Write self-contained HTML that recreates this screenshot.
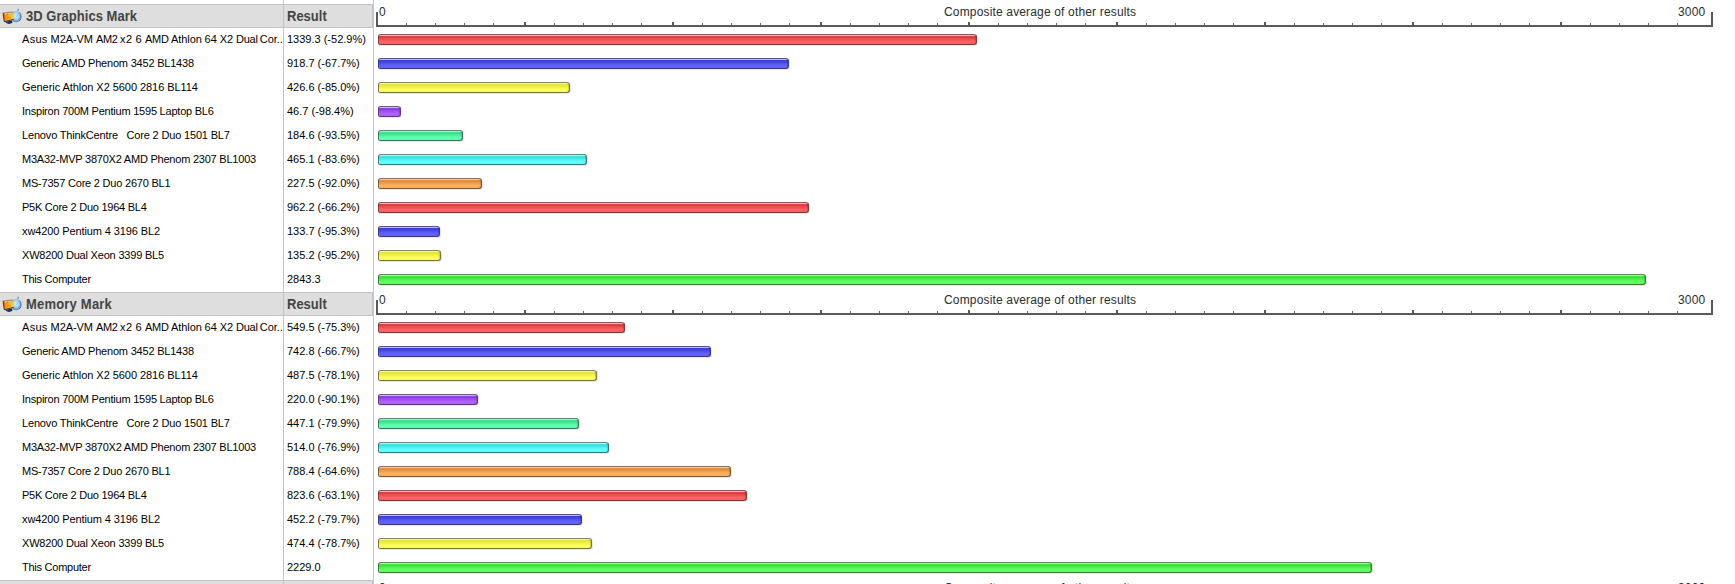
<!DOCTYPE html>
<html><head><meta charset="utf-8"><title>Results</title>
<style>
html,body{margin:0;padding:0;background:#fff;}
html{width:1735px;height:584px;overflow:hidden;}
body{width:1735px;height:584px;overflow:hidden;position:relative;font-family:"Liberation Sans",sans-serif;}
.wrap{position:absolute;left:0;top:0;width:1735px;height:584px;overflow:hidden;}
.vl{position:absolute;top:0;width:1px;height:584px;background:#c2c2c2;}
.hd{position:absolute;left:0;width:372px;height:22px;background:#dedede;border-top:1px solid #c2c2c2;border-bottom:1px solid #c4c4c4;border-right:1px solid #c6c6c6;}
.ht{position:absolute;font-weight:bold;font-size:13px;line-height:16px;color:#444;white-space:nowrap;transform:scaleY(1.08);transform-origin:0 100%;}
.nm{position:absolute;left:22px;font-size:11px;line-height:14px;color:#000;white-space:nowrap;}
.rs{position:absolute;left:287px;font-size:11px;line-height:14px;color:#000;white-space:nowrap;}
.ax{position:absolute;background:#595959;}
.tk{position:absolute;background:#6a6a6a;width:1px;height:2px;}
.at{position:absolute;font-size:12px;line-height:14px;color:#2c2c30;white-space:nowrap;}
.bar{position:absolute;left:378px;height:9px;border:1px solid;box-shadow:1px 1px 1px rgba(0,0,0,0.10),inset -1px 0 1px rgba(0,0,0,0.16);border-radius:2.5px 3px 3px 2.5px;box-sizing:content-box;}
.ic{position:absolute;left:2px;}
</style></head><body>
<div class="wrap">
<div class="vl" style="left:283px"></div>
<div class="vl" style="left:373px"></div>

<div class="hd" style="top:4px"></div>
<div class="vl" style="left:283px;top:4px;height:24px"></div>
<svg class="ic" style="top:7px" width="22" height="20" viewBox="0 0 22 20"><defs>
<radialGradient id="ck0" cx="0.5" cy="0.42" r="0.6"><stop offset="0" stop-color="#d4efff"/><stop offset="0.45" stop-color="#a9d6f6"/><stop offset="0.8" stop-color="#6aa6dc"/><stop offset="1" stop-color="#4a78ae"/></radialGradient>
<linearGradient id="mo0" x1="0" y1="0.3" x2="1" y2="0.7"><stop offset="0" stop-color="#ee6c14"/><stop offset="0.45" stop-color="#fb9a14"/><stop offset="1" stop-color="#ffe23c"/></linearGradient>
</defs>
<path d="M15 3.9 L15.6 1.6 L17 2 L16.6 4.2 Z" fill="#8aa0b8"/>
<path d="M12.6 2.6 l1.4 -0.7 M18.4 3.4 l1.1 -0.9 M16.2 0.9 l1.6 -0.5" stroke="#d6e2ee" stroke-width="0.9" fill="none"/>
<ellipse cx="14" cy="9.6" rx="5.1" ry="5.7" fill="url(#ck0)"/>
<path d="M17.6 5.4 A5.2 5.8 0 0 1 17.4 13.9" stroke="#3d5f88" stroke-width="0.9" fill="none" opacity="0.85"/>
<path d="M14.6 9.4 L16.6 6.4" stroke="#7fb0dc" stroke-width="0.8"/>
<path d="M3.4 15.6 q3.6 2.6 7.2 0.2 l-0.8 -2.2 l-5 0.8 z" fill="#0e3672"/>
<path d="M1.1 5.9 L11.1 5.0 L11.8 12.4 L2.3 14.7 Z" fill="url(#mo0)"/>
<path d="M1.1 5.9 L2.3 14.7 L11.8 12.4" stroke="#3c3018" stroke-width="1" fill="none" stroke-linejoin="round"/>
<path d="M1.1 5.9 L11.1 5.0" stroke="#7a5a30" stroke-width="0.6" fill="none"/>
<path d="M2.6 7.4 l2.2 -1.2" stroke="#f6c8a8" stroke-width="1.2"/>
<path d="M6.2 6.9 l3 -0.3" stroke="#cfe4f0" stroke-width="0.9"/>
<path d="M5.4 9.2 l3.4 -0.4" stroke="#c6d860" stroke-width="0.9" opacity="0.8"/>
<path d="M4.6 11.2 l4.2 -0.5" stroke="#f4641c" stroke-width="0.9" opacity="0.8"/>
</svg>
<div class="ht" style="left:26px;top:9.4px;letter-spacing:0.03px">3D Graphics Mark</div>
<div class="ht" style="left:287px;top:9.4px">Result</div>
<div class="ax" style="left:376px;top:12px;width:2px;height:15px"></div>
<div class="ax" style="left:1711px;top:12px;width:2px;height:15px"></div>
<div class="ax" style="left:376px;top:25px;width:1337px;height:2px"></div>
<div class="tk" style="left:406px;top:23px"></div>
<div class="tk" style="left:435px;top:23px"></div>
<div class="tk" style="left:464px;top:23px"></div>
<div class="tk" style="left:493px;top:23px"></div>
<div class="ax" style="left:524px;top:22px;width:2px;height:3px"></div>
<div class="tk" style="left:554px;top:23px"></div>
<div class="tk" style="left:583px;top:23px"></div>
<div class="tk" style="left:612px;top:23px"></div>
<div class="tk" style="left:641px;top:23px"></div>
<div class="ax" style="left:672px;top:22px;width:2px;height:3px"></div>
<div class="tk" style="left:702px;top:23px"></div>
<div class="tk" style="left:731px;top:23px"></div>
<div class="tk" style="left:760px;top:23px"></div>
<div class="tk" style="left:789px;top:23px"></div>
<div class="ax" style="left:820px;top:22px;width:2px;height:3px"></div>
<div class="tk" style="left:850px;top:23px"></div>
<div class="tk" style="left:879px;top:23px"></div>
<div class="tk" style="left:908px;top:23px"></div>
<div class="tk" style="left:937px;top:23px"></div>
<div class="ax" style="left:968px;top:22px;width:2px;height:3px"></div>
<div class="tk" style="left:998px;top:23px"></div>
<div class="tk" style="left:1027px;top:23px"></div>
<div class="tk" style="left:1056px;top:23px"></div>
<div class="tk" style="left:1085px;top:23px"></div>
<div class="ax" style="left:1116px;top:22px;width:2px;height:3px"></div>
<div class="tk" style="left:1146px;top:23px"></div>
<div class="tk" style="left:1175px;top:23px"></div>
<div class="tk" style="left:1204px;top:23px"></div>
<div class="tk" style="left:1233px;top:23px"></div>
<div class="ax" style="left:1264px;top:22px;width:2px;height:3px"></div>
<div class="tk" style="left:1294px;top:23px"></div>
<div class="tk" style="left:1323px;top:23px"></div>
<div class="tk" style="left:1352px;top:23px"></div>
<div class="tk" style="left:1381px;top:23px"></div>
<div class="ax" style="left:1412px;top:22px;width:2px;height:3px"></div>
<div class="tk" style="left:1442px;top:23px"></div>
<div class="tk" style="left:1471px;top:23px"></div>
<div class="tk" style="left:1500px;top:23px"></div>
<div class="tk" style="left:1529px;top:23px"></div>
<div class="ax" style="left:1560px;top:22px;width:2px;height:3px"></div>
<div class="tk" style="left:1590px;top:23px"></div>
<div class="tk" style="left:1619px;top:23px"></div>
<div class="tk" style="left:1648px;top:23px"></div>
<div class="tk" style="left:1677px;top:23px"></div>
<div class="at" style="left:379px;top:5px">0</div>
<div class="at" style="left:944px;top:5px;letter-spacing:0.16px">Composite average of other results</div>
<div class="at" style="left:1678px;top:5px;letter-spacing:0.2px">3000</div>
<div class="nm" style="top:32px;left:22px;letter-spacing:0.3px">Asus</div>
<div class="nm" style="top:32px;left:50.6px;letter-spacing:-0.1px">M2A-VM</div>
<div class="nm" style="top:32px;left:95.9px;letter-spacing:-0.3px">AM2</div>
<div class="nm" style="top:32px;left:120px;letter-spacing:0.5px">x2</div>
<div class="nm" style="top:32px;left:135.5px;letter-spacing:0px">6</div>
<div class="nm" style="top:32px;left:145px;letter-spacing:-0.3px">AMD</div>
<div class="nm" style="top:32px;left:171px;letter-spacing:-0.05px">Athlon</div>
<div class="nm" style="top:32px;left:204.4px;letter-spacing:0.2px">64</div>
<div class="nm" style="top:32px;left:219.7px;letter-spacing:-0.1px">X2</div>
<div class="nm" style="top:32px;left:236px;letter-spacing:-0.25px">Dual</div>
<div class="nm" style="top:32px;left:259.7px;letter-spacing:0px">Cor..</div>
<div class="rs" style="top:32px">1339.3 (-52.9%)</div>
<div class="bar" style="top:34px;width:597px;border-color:#8a5858 #763c3c #763c3c #763c3c;background:linear-gradient(to bottom,#ecbcbc 0,#ecbcbc 1px,#e04040 1.2px,#e04040 2.5px,#ff6262 6.5px,#ff6262 9px)"></div>
<div class="nm" style="top:56px;letter-spacing:-0.203px">Generic AMD Phenom 3452 BL1438</div>
<div class="rs" style="top:56px">918.7 (-67.7%)</div>
<div class="bar" style="top:58px;width:409px;border-color:#58588a #3c3c76 #3c3c76 #3c3c76;background:linear-gradient(to bottom,#bcbcec 0,#bcbcec 1px,#4040e0 1.2px,#4040e0 2.5px,#6262ff 6.5px,#6262ff 9px)"></div>
<div class="nm" style="top:80px;letter-spacing:-0.056px">Generic Athlon X2 5600 2816 BL114</div>
<div class="rs" style="top:80px">426.6 (-85.0%)</div>
<div class="bar" style="top:82px;width:190px;border-color:#8a8a58 #76763c #76763c #76763c;background:linear-gradient(to bottom,#f4f4c0 0,#f4f4c0 1px,#e6e640 1.2px,#e6e640 2.5px,#ffff62 6.5px,#ffff62 9px)"></div>
<div class="nm" style="top:104px;letter-spacing:-0.225px">Inspiron 700M Pentium 1595 Laptop BL6</div>
<div class="rs" style="top:104px">46.7 (-98.4%)</div>
<div class="bar" style="top:106px;width:21px;border-color:#70588a #583c76 #583c76 #583c76;background:linear-gradient(to bottom,#d4bcec 0,#d4bcec 1px,#9040e0 1.2px,#9040e0 2.5px,#b062ff 6.5px,#b062ff 9px)"></div>
<div class="nm" style="top:128px;letter-spacing:-0.167px">Lenovo ThinkCentre&nbsp;&nbsp; Core 2 Duo 1501 BL7</div>
<div class="rs" style="top:128px">184.6 (-93.5%)</div>
<div class="bar" style="top:130px;width:83px;border-color:#588a70 #3c7658 #3c7658 #3c7658;background:linear-gradient(to bottom,#bcecd4 0,#bcecd4 1px,#40e090 1.2px,#40e090 2.5px,#62ffb0 6.5px,#62ffb0 9px)"></div>
<div class="nm" style="top:152px;letter-spacing:-0.221px">M3A32-MVP 3870X2 AMD Phenom 2307 BL1003</div>
<div class="rs" style="top:152px">465.1 (-83.6%)</div>
<div class="bar" style="top:154px;width:207px;border-color:#588a8a #3c7676 #3c7676 #3c7676;background:linear-gradient(to bottom,#c0f4f4 0,#c0f4f4 1px,#40e0e0 1.2px,#40e0e0 2.5px,#62ffff 6.5px,#62ffff 9px)"></div>
<div class="nm" style="top:176px;letter-spacing:-0.212px">MS-7357 Core 2 Duo 2670 BL1</div>
<div class="rs" style="top:176px">227.5 (-92.0%)</div>
<div class="bar" style="top:178px;width:102px;border-color:#8a7058 #76583c #76583c #76583c;background:linear-gradient(to bottom,#ecd4bc 0,#ecd4bc 1px,#e09040 1.2px,#e09040 2.5px,#ffb062 6.5px,#ffb062 9px)"></div>
<div class="nm" style="top:200px;letter-spacing:-0.245px">P5K Core 2 Duo 1964 BL4</div>
<div class="rs" style="top:200px">962.2 (-66.2%)</div>
<div class="bar" style="top:202px;width:429px;border-color:#8a5858 #763c3c #763c3c #763c3c;background:linear-gradient(to bottom,#ecbcbc 0,#ecbcbc 1px,#e04040 1.2px,#e04040 2.5px,#ff6262 6.5px,#ff6262 9px)"></div>
<div class="nm" style="top:224px;letter-spacing:-0.108px">xw4200 Pentium 4 3196 BL2</div>
<div class="rs" style="top:224px">133.7 (-95.3%)</div>
<div class="bar" style="top:226px;width:60px;border-color:#58588a #3c3c76 #3c3c76 #3c3c76;background:linear-gradient(to bottom,#bcbcec 0,#bcbcec 1px,#4040e0 1.2px,#4040e0 2.5px,#6262ff 6.5px,#6262ff 9px)"></div>
<div class="nm" style="top:248px;letter-spacing:-0.192px">XW8200 Dual Xeon 3399 BL5</div>
<div class="rs" style="top:248px">135.2 (-95.2%)</div>
<div class="bar" style="top:250px;width:61px;border-color:#8a8a58 #76763c #76763c #76763c;background:linear-gradient(to bottom,#f4f4c0 0,#f4f4c0 1px,#e6e640 1.2px,#e6e640 2.5px,#ffff62 6.5px,#ffff62 9px)"></div>
<div class="nm" style="top:272px;letter-spacing:-0.25px">This Computer</div>
<div class="rs" style="top:272px">2843.3</div>
<div class="bar" style="top:274px;width:1266px;border-color:#588a58 #3c763c #3c763c #3c763c;background:linear-gradient(to bottom,#bcecbc 0,#bcecbc 1px,#40e040 1.2px,#40e040 2.5px,#62ff62 6.5px,#62ff62 9px)"></div>
<div class="hd" style="top:292px"></div>
<div class="vl" style="left:283px;top:292px;height:24px"></div>
<svg class="ic" style="top:295px" width="22" height="20" viewBox="0 0 22 20"><defs>
<radialGradient id="ck1" cx="0.5" cy="0.42" r="0.6"><stop offset="0" stop-color="#d4efff"/><stop offset="0.45" stop-color="#a9d6f6"/><stop offset="0.8" stop-color="#6aa6dc"/><stop offset="1" stop-color="#4a78ae"/></radialGradient>
<linearGradient id="mo1" x1="0" y1="0.3" x2="1" y2="0.7"><stop offset="0" stop-color="#ee6c14"/><stop offset="0.45" stop-color="#fb9a14"/><stop offset="1" stop-color="#ffe23c"/></linearGradient>
</defs>
<path d="M15 3.9 L15.6 1.6 L17 2 L16.6 4.2 Z" fill="#8aa0b8"/>
<path d="M12.6 2.6 l1.4 -0.7 M18.4 3.4 l1.1 -0.9 M16.2 0.9 l1.6 -0.5" stroke="#d6e2ee" stroke-width="0.9" fill="none"/>
<ellipse cx="14" cy="9.6" rx="5.1" ry="5.7" fill="url(#ck1)"/>
<path d="M17.6 5.4 A5.2 5.8 0 0 1 17.4 13.9" stroke="#3d5f88" stroke-width="0.9" fill="none" opacity="0.85"/>
<path d="M14.6 9.4 L16.6 6.4" stroke="#7fb0dc" stroke-width="0.8"/>
<path d="M3.4 15.6 q3.6 2.6 7.2 0.2 l-0.8 -2.2 l-5 0.8 z" fill="#0e3672"/>
<path d="M1.1 5.9 L11.1 5.0 L11.8 12.4 L2.3 14.7 Z" fill="url(#mo1)"/>
<path d="M1.1 5.9 L2.3 14.7 L11.8 12.4" stroke="#3c3018" stroke-width="1" fill="none" stroke-linejoin="round"/>
<path d="M1.1 5.9 L11.1 5.0" stroke="#7a5a30" stroke-width="0.6" fill="none"/>
<path d="M2.6 7.4 l2.2 -1.2" stroke="#f6c8a8" stroke-width="1.2"/>
<path d="M6.2 6.9 l3 -0.3" stroke="#cfe4f0" stroke-width="0.9"/>
<path d="M5.4 9.2 l3.4 -0.4" stroke="#c6d860" stroke-width="0.9" opacity="0.8"/>
<path d="M4.6 11.2 l4.2 -0.5" stroke="#f4641c" stroke-width="0.9" opacity="0.8"/>
</svg>
<div class="ht" style="left:26px;top:297.4px;letter-spacing:0.2px">Memory Mark</div>
<div class="ht" style="left:287px;top:297.4px">Result</div>
<div class="ax" style="left:376px;top:300px;width:2px;height:15px"></div>
<div class="ax" style="left:1711px;top:300px;width:2px;height:15px"></div>
<div class="ax" style="left:376px;top:313px;width:1337px;height:2px"></div>
<div class="tk" style="left:406px;top:311px"></div>
<div class="tk" style="left:435px;top:311px"></div>
<div class="tk" style="left:464px;top:311px"></div>
<div class="tk" style="left:493px;top:311px"></div>
<div class="ax" style="left:524px;top:310px;width:2px;height:3px"></div>
<div class="tk" style="left:554px;top:311px"></div>
<div class="tk" style="left:583px;top:311px"></div>
<div class="tk" style="left:612px;top:311px"></div>
<div class="tk" style="left:641px;top:311px"></div>
<div class="ax" style="left:672px;top:310px;width:2px;height:3px"></div>
<div class="tk" style="left:702px;top:311px"></div>
<div class="tk" style="left:731px;top:311px"></div>
<div class="tk" style="left:760px;top:311px"></div>
<div class="tk" style="left:789px;top:311px"></div>
<div class="ax" style="left:820px;top:310px;width:2px;height:3px"></div>
<div class="tk" style="left:850px;top:311px"></div>
<div class="tk" style="left:879px;top:311px"></div>
<div class="tk" style="left:908px;top:311px"></div>
<div class="tk" style="left:937px;top:311px"></div>
<div class="ax" style="left:968px;top:310px;width:2px;height:3px"></div>
<div class="tk" style="left:998px;top:311px"></div>
<div class="tk" style="left:1027px;top:311px"></div>
<div class="tk" style="left:1056px;top:311px"></div>
<div class="tk" style="left:1085px;top:311px"></div>
<div class="ax" style="left:1116px;top:310px;width:2px;height:3px"></div>
<div class="tk" style="left:1146px;top:311px"></div>
<div class="tk" style="left:1175px;top:311px"></div>
<div class="tk" style="left:1204px;top:311px"></div>
<div class="tk" style="left:1233px;top:311px"></div>
<div class="ax" style="left:1264px;top:310px;width:2px;height:3px"></div>
<div class="tk" style="left:1294px;top:311px"></div>
<div class="tk" style="left:1323px;top:311px"></div>
<div class="tk" style="left:1352px;top:311px"></div>
<div class="tk" style="left:1381px;top:311px"></div>
<div class="ax" style="left:1412px;top:310px;width:2px;height:3px"></div>
<div class="tk" style="left:1442px;top:311px"></div>
<div class="tk" style="left:1471px;top:311px"></div>
<div class="tk" style="left:1500px;top:311px"></div>
<div class="tk" style="left:1529px;top:311px"></div>
<div class="ax" style="left:1560px;top:310px;width:2px;height:3px"></div>
<div class="tk" style="left:1590px;top:311px"></div>
<div class="tk" style="left:1619px;top:311px"></div>
<div class="tk" style="left:1648px;top:311px"></div>
<div class="tk" style="left:1677px;top:311px"></div>
<div class="at" style="left:379px;top:293px">0</div>
<div class="at" style="left:944px;top:293px;letter-spacing:0.16px">Composite average of other results</div>
<div class="at" style="left:1678px;top:293px;letter-spacing:0.2px">3000</div>
<div class="nm" style="top:320px;left:22px;letter-spacing:0.3px">Asus</div>
<div class="nm" style="top:320px;left:50.6px;letter-spacing:-0.1px">M2A-VM</div>
<div class="nm" style="top:320px;left:95.9px;letter-spacing:-0.3px">AM2</div>
<div class="nm" style="top:320px;left:120px;letter-spacing:0.5px">x2</div>
<div class="nm" style="top:320px;left:135.5px;letter-spacing:0px">6</div>
<div class="nm" style="top:320px;left:145px;letter-spacing:-0.3px">AMD</div>
<div class="nm" style="top:320px;left:171px;letter-spacing:-0.05px">Athlon</div>
<div class="nm" style="top:320px;left:204.4px;letter-spacing:0.2px">64</div>
<div class="nm" style="top:320px;left:219.7px;letter-spacing:-0.1px">X2</div>
<div class="nm" style="top:320px;left:236px;letter-spacing:-0.25px">Dual</div>
<div class="nm" style="top:320px;left:259.7px;letter-spacing:0px">Cor..</div>
<div class="rs" style="top:320px">549.5 (-75.3%)</div>
<div class="bar" style="top:322px;width:245px;border-color:#8a5858 #763c3c #763c3c #763c3c;background:linear-gradient(to bottom,#ecbcbc 0,#ecbcbc 1px,#e04040 1.2px,#e04040 2.5px,#ff6262 6.5px,#ff6262 9px)"></div>
<div class="nm" style="top:344px;letter-spacing:-0.203px">Generic AMD Phenom 3452 BL1438</div>
<div class="rs" style="top:344px">742.8 (-66.7%)</div>
<div class="bar" style="top:346px;width:331px;border-color:#58588a #3c3c76 #3c3c76 #3c3c76;background:linear-gradient(to bottom,#bcbcec 0,#bcbcec 1px,#4040e0 1.2px,#4040e0 2.5px,#6262ff 6.5px,#6262ff 9px)"></div>
<div class="nm" style="top:368px;letter-spacing:-0.056px">Generic Athlon X2 5600 2816 BL114</div>
<div class="rs" style="top:368px">487.5 (-78.1%)</div>
<div class="bar" style="top:370px;width:217px;border-color:#8a8a58 #76763c #76763c #76763c;background:linear-gradient(to bottom,#f4f4c0 0,#f4f4c0 1px,#e6e640 1.2px,#e6e640 2.5px,#ffff62 6.5px,#ffff62 9px)"></div>
<div class="nm" style="top:392px;letter-spacing:-0.225px">Inspiron 700M Pentium 1595 Laptop BL6</div>
<div class="rs" style="top:392px">220.0 (-90.1%)</div>
<div class="bar" style="top:394px;width:98px;border-color:#70588a #583c76 #583c76 #583c76;background:linear-gradient(to bottom,#d4bcec 0,#d4bcec 1px,#9040e0 1.2px,#9040e0 2.5px,#b062ff 6.5px,#b062ff 9px)"></div>
<div class="nm" style="top:416px;letter-spacing:-0.167px">Lenovo ThinkCentre&nbsp;&nbsp; Core 2 Duo 1501 BL7</div>
<div class="rs" style="top:416px">447.1 (-79.9%)</div>
<div class="bar" style="top:418px;width:199px;border-color:#588a70 #3c7658 #3c7658 #3c7658;background:linear-gradient(to bottom,#bcecd4 0,#bcecd4 1px,#40e090 1.2px,#40e090 2.5px,#62ffb0 6.5px,#62ffb0 9px)"></div>
<div class="nm" style="top:440px;letter-spacing:-0.221px">M3A32-MVP 3870X2 AMD Phenom 2307 BL1003</div>
<div class="rs" style="top:440px">514.0 (-76.9%)</div>
<div class="bar" style="top:442px;width:229px;border-color:#588a8a #3c7676 #3c7676 #3c7676;background:linear-gradient(to bottom,#c0f4f4 0,#c0f4f4 1px,#40e0e0 1.2px,#40e0e0 2.5px,#62ffff 6.5px,#62ffff 9px)"></div>
<div class="nm" style="top:464px;letter-spacing:-0.212px">MS-7357 Core 2 Duo 2670 BL1</div>
<div class="rs" style="top:464px">788.4 (-64.6%)</div>
<div class="bar" style="top:466px;width:351px;border-color:#8a7058 #76583c #76583c #76583c;background:linear-gradient(to bottom,#ecd4bc 0,#ecd4bc 1px,#e09040 1.2px,#e09040 2.5px,#ffb062 6.5px,#ffb062 9px)"></div>
<div class="nm" style="top:488px;letter-spacing:-0.245px">P5K Core 2 Duo 1964 BL4</div>
<div class="rs" style="top:488px">823.6 (-63.1%)</div>
<div class="bar" style="top:490px;width:367px;border-color:#8a5858 #763c3c #763c3c #763c3c;background:linear-gradient(to bottom,#ecbcbc 0,#ecbcbc 1px,#e04040 1.2px,#e04040 2.5px,#ff6262 6.5px,#ff6262 9px)"></div>
<div class="nm" style="top:512px;letter-spacing:-0.108px">xw4200 Pentium 4 3196 BL2</div>
<div class="rs" style="top:512px">452.2 (-79.7%)</div>
<div class="bar" style="top:514px;width:202px;border-color:#58588a #3c3c76 #3c3c76 #3c3c76;background:linear-gradient(to bottom,#bcbcec 0,#bcbcec 1px,#4040e0 1.2px,#4040e0 2.5px,#6262ff 6.5px,#6262ff 9px)"></div>
<div class="nm" style="top:536px;letter-spacing:-0.192px">XW8200 Dual Xeon 3399 BL5</div>
<div class="rs" style="top:536px">474.4 (-78.7%)</div>
<div class="bar" style="top:538px;width:212px;border-color:#8a8a58 #76763c #76763c #76763c;background:linear-gradient(to bottom,#f4f4c0 0,#f4f4c0 1px,#e6e640 1.2px,#e6e640 2.5px,#ffff62 6.5px,#ffff62 9px)"></div>
<div class="nm" style="top:560px;letter-spacing:-0.25px">This Computer</div>
<div class="rs" style="top:560px">2229.0</div>
<div class="bar" style="top:562px;width:992px;border-color:#588a58 #3c763c #3c763c #3c763c;background:linear-gradient(to bottom,#bcecbc 0,#bcecbc 1px,#40e040 1.2px,#40e040 2.5px,#62ff62 6.5px,#62ff62 9px)"></div>
<div class="hd" style="top:580px"></div>
<div class="vl" style="left:283px;top:580px;height:24px"></div>
<svg class="ic" style="top:583px" width="22" height="20" viewBox="0 0 22 20"><defs>
<radialGradient id="ck2" cx="0.5" cy="0.42" r="0.6"><stop offset="0" stop-color="#d4efff"/><stop offset="0.45" stop-color="#a9d6f6"/><stop offset="0.8" stop-color="#6aa6dc"/><stop offset="1" stop-color="#4a78ae"/></radialGradient>
<linearGradient id="mo2" x1="0" y1="0.3" x2="1" y2="0.7"><stop offset="0" stop-color="#ee6c14"/><stop offset="0.45" stop-color="#fb9a14"/><stop offset="1" stop-color="#ffe23c"/></linearGradient>
</defs>
<path d="M15 3.9 L15.6 1.6 L17 2 L16.6 4.2 Z" fill="#8aa0b8"/>
<path d="M12.6 2.6 l1.4 -0.7 M18.4 3.4 l1.1 -0.9 M16.2 0.9 l1.6 -0.5" stroke="#d6e2ee" stroke-width="0.9" fill="none"/>
<ellipse cx="14" cy="9.6" rx="5.1" ry="5.7" fill="url(#ck2)"/>
<path d="M17.6 5.4 A5.2 5.8 0 0 1 17.4 13.9" stroke="#3d5f88" stroke-width="0.9" fill="none" opacity="0.85"/>
<path d="M14.6 9.4 L16.6 6.4" stroke="#7fb0dc" stroke-width="0.8"/>
<path d="M3.4 15.6 q3.6 2.6 7.2 0.2 l-0.8 -2.2 l-5 0.8 z" fill="#0e3672"/>
<path d="M1.1 5.9 L11.1 5.0 L11.8 12.4 L2.3 14.7 Z" fill="url(#mo2)"/>
<path d="M1.1 5.9 L2.3 14.7 L11.8 12.4" stroke="#3c3018" stroke-width="1" fill="none" stroke-linejoin="round"/>
<path d="M1.1 5.9 L11.1 5.0" stroke="#7a5a30" stroke-width="0.6" fill="none"/>
<path d="M2.6 7.4 l2.2 -1.2" stroke="#f6c8a8" stroke-width="1.2"/>
<path d="M6.2 6.9 l3 -0.3" stroke="#cfe4f0" stroke-width="0.9"/>
<path d="M5.4 9.2 l3.4 -0.4" stroke="#c6d860" stroke-width="0.9" opacity="0.8"/>
<path d="M4.6 11.2 l4.2 -0.5" stroke="#f4641c" stroke-width="0.9" opacity="0.8"/>
</svg>
<div class="ht" style="left:26px;top:585.4px;letter-spacing:0.03px">CD Mark</div>
<div class="ht" style="left:287px;top:585.4px">Result</div>
<div class="ax" style="left:376px;top:588px;width:2px;height:15px"></div>
<div class="ax" style="left:1711px;top:588px;width:2px;height:15px"></div>
<div class="ax" style="left:376px;top:601px;width:1337px;height:2px"></div>
<div class="tk" style="left:406px;top:599px"></div>
<div class="tk" style="left:435px;top:599px"></div>
<div class="tk" style="left:464px;top:599px"></div>
<div class="tk" style="left:493px;top:599px"></div>
<div class="ax" style="left:524px;top:598px;width:2px;height:3px"></div>
<div class="tk" style="left:554px;top:599px"></div>
<div class="tk" style="left:583px;top:599px"></div>
<div class="tk" style="left:612px;top:599px"></div>
<div class="tk" style="left:641px;top:599px"></div>
<div class="ax" style="left:672px;top:598px;width:2px;height:3px"></div>
<div class="tk" style="left:702px;top:599px"></div>
<div class="tk" style="left:731px;top:599px"></div>
<div class="tk" style="left:760px;top:599px"></div>
<div class="tk" style="left:789px;top:599px"></div>
<div class="ax" style="left:820px;top:598px;width:2px;height:3px"></div>
<div class="tk" style="left:850px;top:599px"></div>
<div class="tk" style="left:879px;top:599px"></div>
<div class="tk" style="left:908px;top:599px"></div>
<div class="tk" style="left:937px;top:599px"></div>
<div class="ax" style="left:968px;top:598px;width:2px;height:3px"></div>
<div class="tk" style="left:998px;top:599px"></div>
<div class="tk" style="left:1027px;top:599px"></div>
<div class="tk" style="left:1056px;top:599px"></div>
<div class="tk" style="left:1085px;top:599px"></div>
<div class="ax" style="left:1116px;top:598px;width:2px;height:3px"></div>
<div class="tk" style="left:1146px;top:599px"></div>
<div class="tk" style="left:1175px;top:599px"></div>
<div class="tk" style="left:1204px;top:599px"></div>
<div class="tk" style="left:1233px;top:599px"></div>
<div class="ax" style="left:1264px;top:598px;width:2px;height:3px"></div>
<div class="tk" style="left:1294px;top:599px"></div>
<div class="tk" style="left:1323px;top:599px"></div>
<div class="tk" style="left:1352px;top:599px"></div>
<div class="tk" style="left:1381px;top:599px"></div>
<div class="ax" style="left:1412px;top:598px;width:2px;height:3px"></div>
<div class="tk" style="left:1442px;top:599px"></div>
<div class="tk" style="left:1471px;top:599px"></div>
<div class="tk" style="left:1500px;top:599px"></div>
<div class="tk" style="left:1529px;top:599px"></div>
<div class="ax" style="left:1560px;top:598px;width:2px;height:3px"></div>
<div class="tk" style="left:1590px;top:599px"></div>
<div class="tk" style="left:1619px;top:599px"></div>
<div class="tk" style="left:1648px;top:599px"></div>
<div class="tk" style="left:1677px;top:599px"></div>
<div class="at" style="left:379px;top:581px">0</div>
<div class="at" style="left:944px;top:581px;letter-spacing:0.16px">Composite average of other results</div>
<div class="at" style="left:1678px;top:581px;letter-spacing:0.2px">3000</div>
</div>
</body></html>
